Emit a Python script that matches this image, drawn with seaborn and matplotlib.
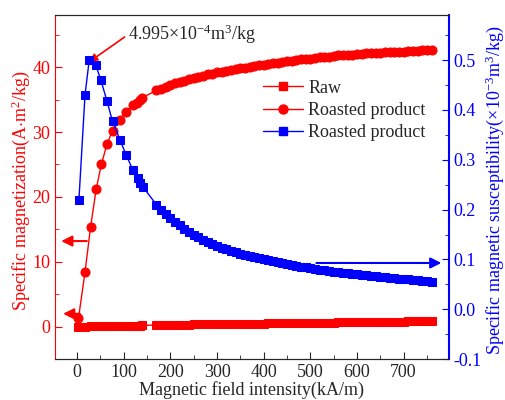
import numpy as np
import pandas as pd
import matplotlib
matplotlib.use("Agg")
import matplotlib.pyplot as plt
from matplotlib.lines import Line2D
from matplotlib.ticker import MultipleLocator, FormatStrFormatter
import seaborn as sns

# field grid (kA/m): low-field points, then the dense high-field sweep
field_low = [3, 17, 29, 41, 52, 64, 76, 91, 104, 119, 128, 135, 140]
field_chi_low = [4, 17, 26, 40, 51, 64, 76, 92, 105, 120, 130, 135, 141]
field_high = [170, 180, 190, 200, 210, 220, 230, 240, 250, 260,
              270, 280, 290, 300, 310, 320, 330, 340, 350, 360,
              370, 380, 390, 400, 410, 420, 430, 440, 450, 460,
              470, 480, 490, 500, 510, 520, 530, 540, 550, 560,
              570, 580, 590, 600, 610, 620, 630, 640, 650, 660,
              670, 680, 690, 700, 710, 720, 730, 740, 750, 760]

# specific magnetization, raw ore (A*m2/kg)
raw_low = [0.0, 0.02, 0.04, 0.06, 0.08, 0.10, 0.11, 0.13, 0.15, 0.17, 0.18, 0.19, 0.20]
raw_high = [0.27, 0.28, 0.29, 0.30, 0.31, 0.32, 0.33, 0.34, 0.35, 0.36,
            0.37, 0.38, 0.39, 0.40, 0.41, 0.42, 0.43, 0.44, 0.45, 0.46,
            0.47, 0.48, 0.49, 0.50, 0.51, 0.52, 0.53, 0.54, 0.55, 0.56,
            0.57, 0.58, 0.59, 0.60, 0.61, 0.62, 0.63, 0.64, 0.65, 0.66,
            0.67, 0.68, 0.69, 0.70, 0.71, 0.72, 0.73, 0.74, 0.75, 0.76,
            0.77, 0.78, 0.79, 0.80, 0.81, 0.82, 0.83, 0.84, 0.85, 0.86]

# specific magnetization, roasted product (A*m2/kg)
roast_low = [1.3, 8.4, 15.4, 21.2, 25.0, 28.1, 30.2, 31.8, 33.1, 34.1, 34.5, 34.9, 35.3]
roast_high = [36.4, 36.7, 37.0, 37.2, 37.5, 37.7, 37.9, 38.1, 38.3, 38.5,
              38.7, 38.9, 39.0, 39.2, 39.3, 39.4, 39.5, 39.7, 39.8, 39.9,
              40.0, 40.1, 40.3, 40.4, 40.5, 40.6, 40.7, 40.8, 40.9, 41.0,
              41.1, 41.2, 41.2, 41.3, 41.4, 41.5, 41.6, 41.6, 41.7, 41.8,
              41.8, 41.9, 41.9, 42.0, 42.0, 42.1, 42.1, 42.2, 42.2, 42.3,
              42.3, 42.3, 42.4, 42.4, 42.5, 42.5, 42.5, 42.6, 42.6, 42.6]

# specific magnetic susceptibility, roasted product (1e-3 m3/kg)
chi_low = [0.220, 0.430, 0.4995, 0.490, 0.460, 0.418, 0.377, 0.340, 0.310, 0.279, 0.263, 0.253, 0.246]
chi_high = [0.210, 0.200, 0.192, 0.183, 0.176, 0.169, 0.162, 0.156, 0.150, 0.145,
            0.140, 0.136, 0.132, 0.128, 0.124, 0.121, 0.118, 0.115, 0.112, 0.110,
            0.107, 0.105, 0.103, 0.101, 0.099, 0.097, 0.095, 0.093, 0.091, 0.089,
            0.087, 0.085, 0.084, 0.082, 0.081, 0.079, 0.078, 0.077, 0.075, 0.074,
            0.073, 0.072, 0.071, 0.070, 0.069, 0.068, 0.067, 0.066, 0.065, 0.064,
            0.063, 0.062, 0.061, 0.060, 0.060, 0.059, 0.058, 0.057, 0.056, 0.055]

legend_labels = ["Raw", "Roasted product", "Roasted product"]

sns.set_style("ticks")
plt.rcParams["font.family"] = ["Liberation Serif", "DejaVu Serif"]
plt.rcParams["mathtext.fontset"] = "custom"
plt.rcParams["mathtext.rm"] = "Liberation Serif"
plt.rcParams["mathtext.it"] = "Liberation Serif:italic"
plt.rcParams["axes.unicode_minus"] = False
plt.rcParams["font.size"] = 13

FS = 13

df_m = pd.DataFrame({"H": field_low + field_high,
                     "raw": raw_low + raw_high,
                     "roast": roast_low + roast_high})
df_chi = pd.DataFrame({"H": field_chi_low + field_high,
                       "chi": chi_low + chi_high})

fig, ax = plt.subplots(figsize=(5.06, 4.0), dpi=100)
fig.subplots_adjust(left=0.109, right=0.887, bottom=0.102, top=0.962)
ax2 = ax.twinx()

sns.lineplot(data=df_m, x="H", y="raw", ax=ax, color="red", marker="s",
             markersize=6, markeredgecolor="red", linewidth=1)
sns.lineplot(data=df_m, x="H", y="roast", ax=ax, color="red", marker="o",
             markersize=6.5, markeredgecolor="red", linewidth=1)
sns.lineplot(data=df_chi, x="H", y="chi", ax=ax2, color="blue", marker="s",
             markersize=5.5, markeredgecolor="blue", linewidth=1)

ax.set_xlim(-47, 797)
ax.set_ylim(-5, 48)
ax2.set_ylim(-0.1, 0.59)

ax.xaxis.set_major_locator(MultipleLocator(100))
ax.xaxis.set_minor_locator(MultipleLocator(50))
ax.yaxis.set_major_locator(MultipleLocator(10))
ax.yaxis.set_minor_locator(MultipleLocator(5))
ax2.yaxis.set_major_locator(MultipleLocator(0.1))
ax2.yaxis.set_minor_locator(MultipleLocator(0.05))
ax2.yaxis.set_major_formatter(FormatStrFormatter("%.1f"))

ax.tick_params(axis="both", which="both", direction="in", labelsize=FS)
ax.tick_params(which="major", length=5)
ax.tick_params(which="minor", length=3)
ax.tick_params(axis="y", which="both", colors="red")
ax2.tick_params(axis="y", which="both", direction="in", colors="blue", labelsize=FS)
ax2.tick_params(which="major", length=5)
ax2.tick_params(which="minor", length=3)

ax.spines["left"].set_color("red")
ax.spines["right"].set_visible(False)
ax2.spines["left"].set_visible(False)
ax2.spines["right"].set_color("blue")
ax2.spines["right"].set_linewidth(1.5)

ax.set_xlabel("Magnetic field intensity(kA/m)", fontsize=FS, labelpad=0)
ax.set_ylabel(r"Specific magnetization(A$\cdot$m$^{2}$/kg)", color="red", fontsize=FS)
ax.yaxis.set_label_coords(-0.058, 0.49)
ax2.set_ylabel(r"Specific magnetic susceptibility($\times$10$^{-3}$m$^{3}$/kg)",
               color="blue", fontsize=FS)
ax2.yaxis.set_label_coords(1.088, 0.49)

if ax.get_legend() is not None:
    ax.get_legend().remove()
handles = [
    Line2D([], [], color="red", marker="s", markersize=6, lw=1),
    Line2D([], [], color="red", marker="o", markersize=6.5, lw=1),
    Line2D([], [], color="blue", marker="s", markersize=5.5, lw=1),
]
ax2.legend(handles, legend_labels, loc="upper left", bbox_to_anchor=(0.487, 0.86),
           frameon=False, fontsize=FS, handlelength=2.2, handletextpad=0.3,
           labelspacing=0.3)

# peak annotation and axis-pointing arrows
ax.annotate(r"4.995$\times$10$^{-4}$m$^{3}$/kg", xy=(26, 40.8), xytext=(109, 45),
            fontsize=FS, va="center", ha="left",
            arrowprops=dict(arrowstyle="-|>", color="red", lw=1.2, mutation_scale=12,
                            shrinkA=0, shrinkB=0, relpos=(0, 0.5)))
ax.annotate("", xy=(-34, 13.2), xytext=(21, 13.2),
            arrowprops=dict(arrowstyle="-|>", color="red", lw=1.5, mutation_scale=16,
                            shrinkA=0, shrinkB=0))
ax.annotate("", xy=(-30, 2.0), xytext=(6, 2.0),
            arrowprops=dict(arrowstyle="-|>", color="red", lw=1.5, mutation_scale=16,
                            shrinkA=0, shrinkB=0))
ax2.annotate("", xy=(781, 0.093), xytext=(513, 0.093),
             arrowprops=dict(arrowstyle="-|>", color="blue", lw=1.5, mutation_scale=16,
                             shrinkA=0, shrinkB=0))

fig.savefig("out.png", dpi=100)
